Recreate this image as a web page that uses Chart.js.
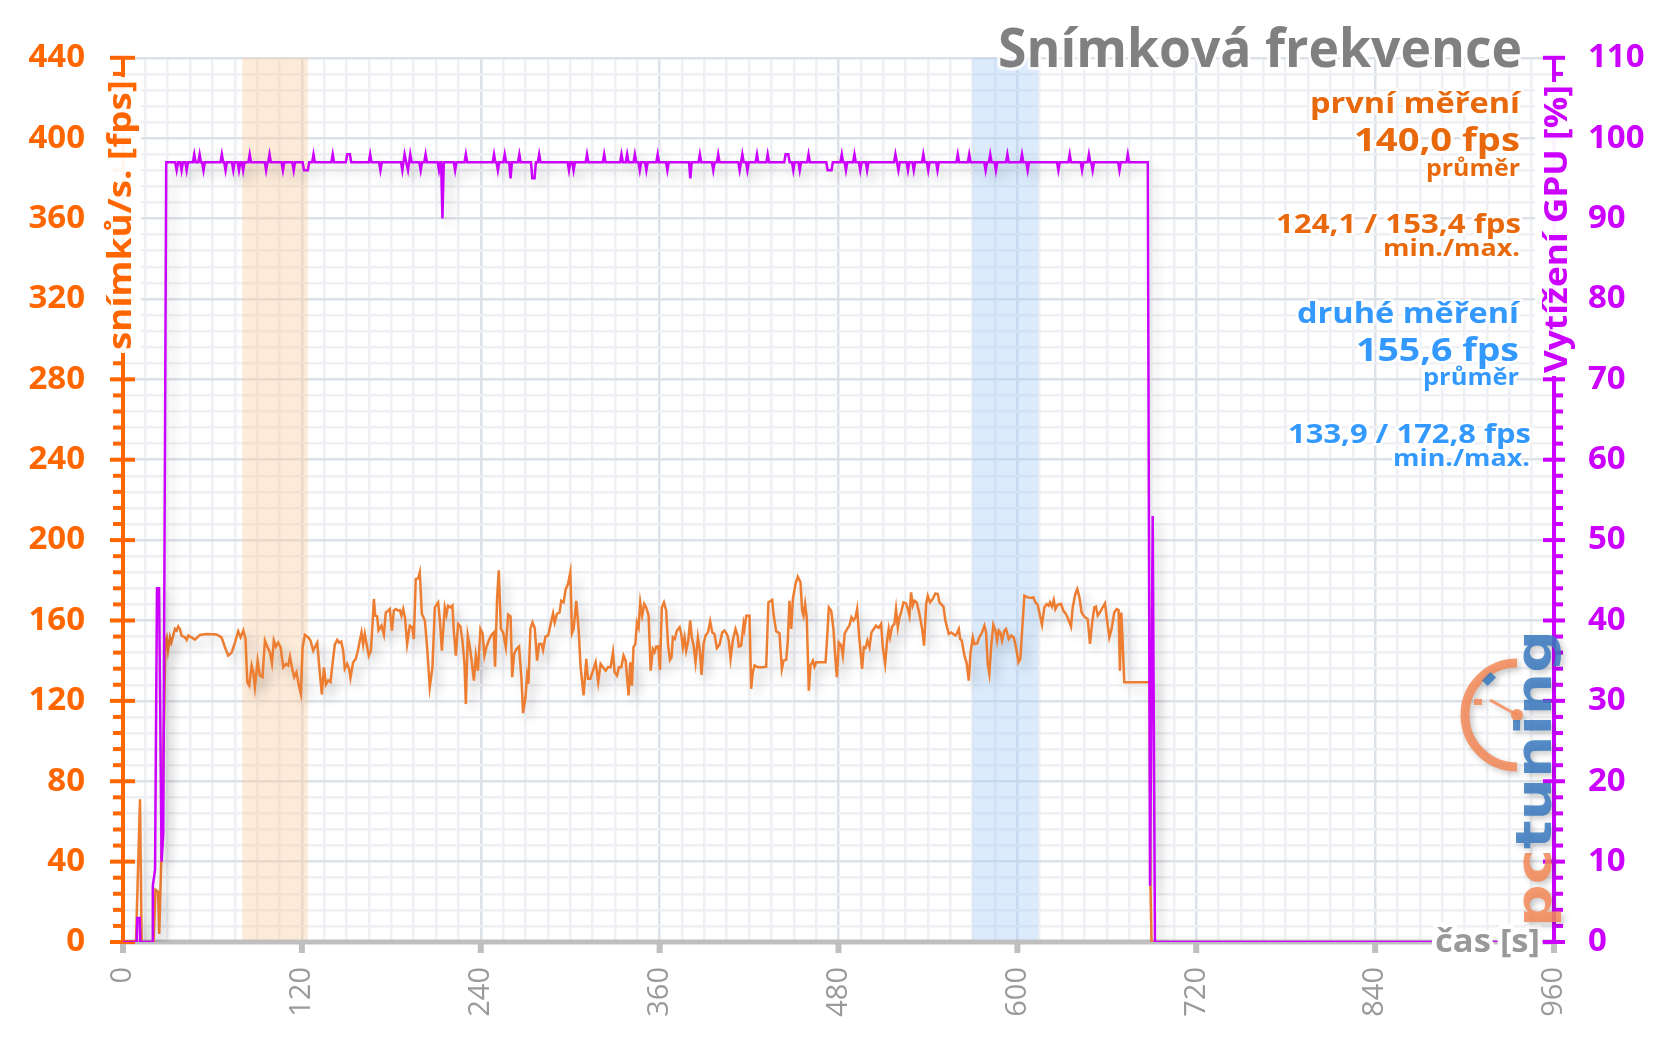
<!DOCTYPE html>
<html><head><meta charset="utf-8">
<script src="https://cdn.jsdelivr.net/npm/chart.js@4.4.1/dist/chart.umd.min.js"></script>
<style>html,body{margin:0;padding:0;background:#fff;overflow:hidden}#wrap{width:1656px;height:1044px;position:relative}canvas{display:block}</style>
</head><body><div id="wrap"><canvas id="c"></canvas></div>
<script>
// ---------- data ----------
const xTickValues = [0,120,240,360,480,600,720,840,960];
const fpsTickValues = [0,40,80,120,160,200,240,280,320,360,400,440];
const gpuTickValues = [0,10,20,30,40,50,60,70,80,90,100,110];
const highlightBands = [[80,124],[570,614]];

// time [s], frames per second
const fpsPoints = [
[0,0],[8.7,0],[11.4,71],[12.5,0],[20.5,0],[21.8,26],[23.5,25],[24.3,4],[25.9,47],[28.5,150],[29.3,151.6],[30.2,145],[31.5,151.6],[32.4,149],[33.7,152.5],[34.9,155.8],[36,155],[37.1,157],[38.2,155.8],[39.3,152.5],[41.6,151.6],[42.7,150.3],[43.8,152.5],[46,151.6],[48.3,150.5],[51.6,152.8],[56.1,153.3],[62.8,153],[66.1,151.6],[68.4,146.7],[70.6,142.5],[72.9,144],[75.1,149],[77.3,154.6],[78.9,151.6],[80.7,155],[82.2,150.8],[83.4,129.3],[84.7,127.6],[86.3,137.6],[87.4,134.2],[88.5,126.8],[90.3,140],[91.8,132.6],[93.6,131.8],[95.2,150],[97,146.7],[98.6,144],[99.9,138.7],[101.2,150],[102.6,147],[104.1,149],[105.7,146.7],[107.5,136.7],[109.3,138.4],[110.8,137.6],[112,142],[113.5,136],[114.9,131.8],[116.4,134.2],[118,127.6],[119.3,123.5],[120.5,146.7],[122,152.8],[124.3,151.6],[125.8,150],[127.6,145],[128.7,146.7],[130.3,149],[132.1,133.4],[133.4,123.2],[134.8,136.7],[136.1,128.1],[137.7,130.2],[139.2,129.3],[140.6,138.7],[142.1,148],[143.7,150.3],[145,149],[146.4,149.5],[147.7,145],[148.8,135.9],[150.4,138.4],[151.7,135.9],[152.6,131.4],[154.4,139.2],[156.2,140.9],[157.8,145.8],[158.9,150],[160,154],[161.1,148],[162.2,153.3],[163.4,148.3],[164.9,142.5],[166.3,145],[167.4,158.3],[168.3,170.7],[169.2,162.4],[170.5,162],[171.4,155],[173.4,157.4],[175,153],[176.3,164],[177.9,164.9],[179,165.7],[180.4,155],[181.7,164.9],[183,165.7],[184.6,164.9],[185.7,165.2],[186.8,162.4],[188,165.7],[189.3,160.7],[190.6,148.3],[192.4,157.4],[194,156.6],[195.1,150.8],[196.4,180.6],[198,181],[199.1,184],[200.5,163.2],[202.5,160],[204,146.7],[205.8,126.8],[207.6,136.7],[209.2,166.5],[211.4,169],[212.6,160],[213.9,145],[215.9,166.5],[217,162.9],[218.1,167.4],[219.7,166.5],[221,167.4],[221.9,155],[223.3,142.5],[224.8,158.3],[226.4,157],[227.7,150],[229.1,138.4],[230,118.5],[231.3,152.5],[232.7,146.7],[234,139.2],[235.4,130.1],[236.7,142.5],[238.1,135],[239.8,155.8],[241.2,153.6],[242.5,142.5],[243.8,146.7],[245.4,150],[247.2,152.8],[248.7,154],[249.6,137],[251,171.5],[252.1,185],[253.5,155.8],[255,154],[256.8,146.7],[258.4,162.9],[260,162],[261.1,131.8],[262.4,143.4],[264,145.8],[265.7,147],[267.3,131],[268.4,113.9],[270,121.8],[271.1,132.6],[272,128.5],[273.3,155.8],[274.7,159],[276.2,156.3],[277.8,140],[279.1,148.3],[280.7,148.3],[281.8,145.3],[283.4,152],[285.2,152.5],
[288.5,163.5],[289.6,159],[291.1,163.2],[292.9,164],[294,169.8],[295.6,169],[297,175.6],[298.5,178],[300.1,184],[301.2,153.6],[302.3,155.8],[304.1,169.8],[305.7,155],[307,136.7],[309,122.7],[310.8,140.9],[311.9,131],[313.5,131],[315.3,135],[317.1,139.2],[318.8,129.3],[320.4,138.4],[322,136.7],[323.8,135],[325.3,136.7],[327.1,136.7],[328.7,144.2],[329.8,134.2],[331.4,132.6],[332.7,136.7],[334.3,136.7],[335.8,142.5],[337.2,140],[339.2,122.7],[340.3,139.2],[341.4,127.6],[342.5,146.7],[343.7,148.3],[344.8,159],[345.9,156.6],[347,169],[348.3,162.4],[349.7,168.2],[351,166.5],[352.6,162.4],[354,135],[355.5,145.8],[356.6,144.2],[357.7,147],[359.1,147],[360.2,135.4],[361.5,166.5],[362.9,169],[364.4,164.9],[365.6,148.3],[366.9,140.4],[368,141.7],[368.9,151.6],[370.2,150.8],[371.6,155],[373.4,156.6],[374.5,153.3],[375.6,146.7],[376.7,151.6],[377.8,145],[379.2,150],[380.5,160],[381.6,151.6],[382.8,147.5],[384.1,139.2],[385.7,151.6],[387,145],[388.1,132.9],[389.5,148.3],[390.8,152.5],[392.4,154],[393.9,159.6],[395.3,154],[396.8,153.3],[398.4,146.3],[400.2,148],[402,154],[403.5,155],[405.1,153.3],[406.4,150],[407.6,140.9],[409.1,150],[410.9,155.8],[412.3,152.5],[413.1,147],[414.7,147.5],[416.3,158.3],[416.9,155.8],[418.1,162.4],[420.3,162.4],[421.4,126],[422.5,134.2],[423.7,137.6],[425.9,136.7],[429.2,136.7],[431.5,137],[433,169],[435.5,170.2],[436.4,163.2],[438.2,154.6],[440.4,153.6],[442,135.9],[443.1,140],[444.9,140.4],[446,150],[447.1,169.8],[448.3,155.8],[449.4,170.7],[451.1,178],[452.7,181.8],[454.5,179],[455.6,164.9],[456.5,162.4],[457.6,168.2],[458.7,161.6],[460.1,125.1],[461.2,137.6],[462.8,140],[463.9,137],[465,139.2],[471.3,139.2],[472.4,151.6],[473.5,166.5],[475.1,164.9],[476.6,155.8],[478,140],[478.9,131.8],[480.2,149],[481.8,147.5],[482.9,142.5],[484.2,153.6],[486.2,156.3],[487.3,157.4],[488.7,161.6],[490,160],[491.4,161.6],[492.5,165.7],[494.1,150],[495.8,135.9],[497,146.7],[498.1,146.3],[499.4,150],[500.8,146.7],[502.1,154],[503.7,155.8],[505.2,157.4],[507,156.3],[508.6,158.3],[509.7,146.7],[511.3,138.4],[512.6,150],[513.7,155.8],[514.6,151.6],[516,157],[517.5,158.3],[518.6,165.7],[519.8,156.6],[520.9,161.6],[522,164],[523.6,169],[525.3,168.5],[526.7,165.2],[527.6,162.4],[528.7,174],[529.8,167.4],[531,169.8],[532.5,169],[534.3,163.2],[536.1,155.8],[537.4,147.5],[538.8,168.2],[539.9,172.3],[541.4,169],[543.2,170.7],[545,173.5],[546.6,173.2],[547.7,169],[550.4,166.9],[551.7,160],[554,153.3],
[555.5,154],[557.1,153.3],[558.4,152.5],[559.3,153.3],[560.7,155.8],[561.6,150.8],[562.7,150],[564.5,142.5],[566,138.7],[567.4,130.1],[568.5,143.4],[570.1,151.6],[571.2,148.3],[573,148.6],[574.5,151.6],[576.3,154],[577.9,157.4],[579,154],[580.1,138.4],[581.2,133.4],[582.4,146.7],[583.9,157.9],[585.3,155],[586.4,150],[587.5,155],[588.6,154],[589.7,150],[591.3,155],[592.4,155.8],[594.2,150.8],[595.8,152.5],[597.5,151.6],[599.1,146.7],[600.7,139.2],[602,140.9],[603.1,154],[604.7,172.3],[606.9,171.5],[609.2,171.2],[610.7,171.5],[612.1,169],[613.6,167.9],[615.2,162.4],[616.5,157.9],[618.1,166.5],[619.7,168.2],[621,167.4],[621.9,169],[623.2,166.9],[624.4,170.2],[625.5,165.7],[627,167.9],[629.3,168.2],[630.8,164.9],[632.6,163.2],[634.4,160.2],[636,157],[637.1,166.5],[638.9,173.2],[640.2,175.6],[641.6,171.5],[643.1,164],[644.9,161.9],[647.2,160.7],[648.7,148.3],[650.1,158.3],[651.6,166.5],[652.7,166.9],[653.9,162.4],[655.4,164],[657.2,166.5],[658.8,168.5],[659.9,161.6],[661.7,151.6],[663.2,155.8],[665,164],[666.6,165.7],[667.9,165.2],[668.8,135],[669.7,164],[670.6,150],[671.7,129.3],[688.8,129.3],[689.3,28],[690,0],[692,0]
];

// time [s], GPU load [%]
const gpuPoints = [
[0,0],[9.2,0],[9.6,3],[11.2,3],[11.6,0],[19.6,0],[20,7],[21.5,9],[22.8,44],[24.2,44],[25.9,10],[27,13.5],[29,97],
[35,97],[36,96],[37,97],[38.4,97],[39.3,96],[40.2,97],[41.8,97],[42.7,96],[43.6,97],[46.9,97],[47.8,98],[48.7,97],[50.5,97],[51.4,98],[52.3,97],[53.1,97],[54,96],[54.9,97],
[65.4,97],[66.3,98],[67.2,97],[67.9,97],[68.8,96],[69.7,97],[73.1,97],[74,96],[74.9,97],[76.9,97],[77.8,96],[78.7,97],[79.7,97],[80.6,96],[81.5,97],[84.1,97],[85,98],[85.9,97],
[95.1,97],[96,96],[96.9,97],[97.4,97],[98.3,98],[99.2,97],[106.4,97],[107.3,96],[108.2,97],[113.6,97],[114.5,96],[115.4,97],[120.5,97],[121.4,96],[124,96],[124.9,97],[126.9,97],[127.8,98],[128.7,97],
[139.8,97],[140.7,98],[141.6,97],[149.5,97],[150.4,98],[152.2,98],[153.1,97],[164.9,97],[165.8,98],[166.7,97],[171.8,97],[172.7,96],[173.6,97],
[186.5,97],[187.4,96],[188.9,98],[190,97],[191.2,96],[192.7,98],[193.6,97],[198.8,97],[199.7,96],[200.6,97],[202.1,97],[203,98],[203.9,97],
[211.1,97],[212,96],[212.9,97],[213.4,97],[214.3,90],[215.2,97],[221.9,97],[222.8,96],[223.7,97],[229.1,97],[230,98],[230.9,97],
[248,97],[248.9,98],[249.8,97],[250.6,97],[251.5,96],[252.4,97],[255.2,97],[256.1,98],[257,97],[259.1,97],[260,95],[260.9,97],[265,97],[265.9,98],[266.8,97],
[273.7,97],[274.6,95],[276.1,95],[277,97],[278.3,97],[279.2,98],[280.1,97],
[298.3,97],[299.2,96],[300.1,97],[301.4,97],[302.3,96],[303.2,97],[310.4,97],[311.3,98],[312.2,97],[321.9,97],[322.8,98],[323.7,97],[333.5,97],[334.4,98],[335.3,97],[337.3,97],[338.2,98],[339.1,97],[342.5,97],[343.4,98],[344.3,97],[345.8,97],[346.7,96],[347.6,97],[350.2,97],[351.1,96],[352,97],[357.8,97],[358.7,98],[359.6,97],[364.3,97],[365.2,96],[366.1,97],
[379.7,97],[380.6,95],[381.5,97],[386.1,97],[387,98],[387.9,97],[395.1,97],[396,96],[396.9,97],[398.4,97],[399.3,98],[400.2,97],
[412.8,97],[413.7,96],[415.5,98],[416.4,97],[418,97],[418.9,96],[419.8,97],[424.4,97],[425.3,98],[426.2,97],[431.6,97],[432.5,98],[433.4,97],
[443.6,97],[444.5,98],[446.3,98],[447.2,97],[448.8,97],[449.7,96],[450.6,97],[453.1,97],[454,96],[454.9,97],[459,97],[459.9,98],[460.8,97],
[471.8,97],[472.7,96],[475.3,96],[476.2,97],[481.3,97],[482.2,98],[483.1,97],[484.1,97],[485,96],[485.9,97],[489.8,97],[490.7,98],[491.6,97],[493.7,97],[494.6,96],[495.5,97],[498.3,97],[499.2,96],[500.1,97],
[517.3,97],[518.2,98],[519.2,97],[520.2,96],[521.1,97],[525.7,97],[526.6,96],[527.5,97],[529.6,97],[530.5,96],[531.4,97],[536,97],[536.9,98],[537.8,97],[539.3,97],[540.2,96],[541.1,97],[545.5,97],[546.4,96],[547.3,97],
[559.1,97],[560,98],[560.9,97],[566.8,97],[567.7,98],[568.6,97],[577.8,97],[578.7,96],[579.6,97],[580.9,97],[581.8,98],[582.7,97],[584.7,97],[585.6,96],[586.5,97],[592.4,97],[593.3,98],[594.2,97],
[602.2,97],[603.1,98],[604,97],[606,97],[606.9,96],[607.8,97],[626.6,97],[627.5,96],[628.4,97],[634.2,97],[635.1,98],[636,97],[642.5,97],[643.4,96],[644.3,97],[647.1,97],[648,98],[648.9,97],[649.6,97],[650.5,96],[651.4,97],
[667.6,97],[668.5,96],[669.4,97],[673.2,97],[674.1,98],[675,97],[687.5,97],[689,7],[690.8,53],[692.3,0],[960,0]
];

// ---------- styling ----------
const FONT = '"Open Sans", sans-serif';
const ORANGE_AXIS = '#ff6600';
const PURPLE = '#cc00ff';
const FPS_LINE = '#ed7d31';
const TEXT_ORANGE = '#e8680c';
const TEXT_BLUE = '#3399ff';
const GRID_MAJOR = '#dde1e8';
const GRID_MINOR = '#eef0f4';
const bandColors = ['rgba(250,205,160,0.40)','rgba(170,208,248,0.42)'];

const textBlocks = [
  {t:'Snímková frekvence', c:'#808080', size:53, right:1522, base:67, width:524},
  {t:'první měření', c:TEXT_ORANGE, size:28, right:1520, base:113, width:210},
  {t:'140,0 fps', c:TEXT_ORANGE, size:33, right:1520, base:151, width:166},
  {t:'průměr', c:TEXT_ORANGE, size:23, right:1520, base:176, width:94},
  {t:'124,1 / 153,4 fps', c:TEXT_ORANGE, size:27, right:1521, base:233, width:245},
  {t:'min./max.', c:TEXT_ORANGE, size:24, right:1520, base:256, width:137},
  {t:'druhé měření', c:TEXT_BLUE, size:28, right:1519, base:323, width:222},
  {t:'155,6 fps', c:TEXT_BLUE, size:33, right:1519, base:361, width:163},
  {t:'průměr', c:TEXT_BLUE, size:23, right:1519, base:385, width:96},
  {t:'133,9 / 172,8 fps', c:TEXT_BLUE, size:27, right:1531, base:443, width:243},
  {t:'min./max.', c:TEXT_BLUE, size:24, right:1530, base:466, width:137}
];

function fitText(ctx, b) {
  ctx.save();
  ctx.font = 'bold ' + b.size + 'px ' + FONT;
  const w = ctx.measureText(b.t).width;
  const sx = b.width / w;
  ctx.translate(b.right, b.base);
  ctx.scale(sx, 1);
  ctx.textAlign = 'right';
  ctx.textBaseline = 'alphabetic';
  ctx.lineJoin = 'round';
  ctx.strokeStyle = 'rgba(255,255,255,0.85)';
  ctx.lineWidth = 6 / sx;
  ctx.strokeText(b.t, 0, 0);
  ctx.fillStyle = b.c;
  ctx.fillText(b.t, 0, 0);
  ctx.restore();
}

function rotTitle(ctx, text, color, size, baseX, top, bottom, bg) {
  ctx.save();
  if (bg) { ctx.fillStyle = 'rgba(255,255,255,0.95)'; ctx.fillRect(bg[0], top - 3, bg[1] - bg[0], bottom - top + 6); }
  ctx.font = 'bold ' + size + 'px ' + FONT;
  const w = ctx.measureText(text).width;
  ctx.translate(baseX, bottom);
  ctx.rotate(-Math.PI / 2);
  ctx.scale((bottom - top) / w, 1);
  ctx.textAlign = 'left';
  ctx.textBaseline = 'alphabetic';
  ctx.fillStyle = color;
  ctx.fillText(text, 0, 0);
  ctx.restore();
}

function drawLogo(ctx) {
  ctx.save();
  ctx.globalAlpha = 0.85;
  ctx.shadowColor = 'rgba(0,0,0,0.25)'; ctx.shadowBlur = 6; ctx.shadowOffsetX = 3; ctx.shadowOffsetY = 3;
  const lo = '#f58a58', lb = '#3a7abf';
  ctx.strokeStyle = lo; ctx.lineWidth = 9;
  ctx.beginPath(); ctx.arc(1517, 715, 52, -Math.PI / 2, Math.PI / 2, true); ctx.stroke();
  ctx.lineWidth = 3;
  ctx.beginPath(); ctx.moveTo(1517, 715); ctx.lineTo(1490, 700); ctx.stroke();
  ctx.fillStyle = lo; ctx.beginPath(); ctx.arc(1517, 715, 6, 0, Math.PI * 2); ctx.fill();
  ctx.save(); ctx.translate(1489, 679); ctx.rotate(-Math.PI / 4); ctx.fillStyle = lb; ctx.fillRect(-6, -4, 12, 8); ctx.restore();
  ctx.save(); ctx.translate(1478, 702); ctx.fillStyle = lo; ctx.fillRect(-4, -3, 8, 6); ctx.restore();
  ctx.font = 'bold 50px "DejaVu Sans"';
  const w1 = ctx.measureText('pc').width, w2 = ctx.measureText('tuning').width;
  ctx.translate(1551, 927);
  ctx.rotate(-Math.PI / 2);
  ctx.scale(297 / (w1 + w2), 1);
  ctx.textAlign = 'left'; ctx.textBaseline = 'alphabetic';
  ctx.fillStyle = lo; ctx.fillText('pc', 0, 0);
  ctx.fillStyle = lb; ctx.fillText('tuning', w1, 0);
  ctx.restore();
}

const decor = {
  id: 'decor',
  beforeDatasetsDraw(chart) {
    const {ctx, chartArea: {left, right, top, bottom}, scales: {x, y, y2}} = chart;
    ctx.save();
    highlightBands.forEach(([a, b], i) => {
      const x1 = x.getPixelForValue(a), x2 = x.getPixelForValue(b);
      ctx.fillStyle = bandColors[i];
      ctx.fillRect(x1, top, x2 - x1, bottom - top);
    });
    // x axis
    ctx.fillStyle = '#bfbfbf';
    ctx.fillRect(left, bottom - 2.5, right - left, 5);
    xTickValues.forEach(v => { const px = x.getPixelForValue(v); ctx.fillRect(px - 3, bottom + 2, 6, 9); });
    // left axis
    ctx.fillStyle = ORANGE_AXIS;
    ctx.fillRect(left - 2, top, 4, bottom - top + 2);
    y.ticks.forEach(t => {
      const py = y.getPixelForValue(t.value);
      if (fpsTickValues.includes(Math.round(t.value))) ctx.fillRect(left - 13, py - 2, 25, 4);
      else ctx.fillRect(left - 10, py - 2, 10, 4);
    });
    // right axis
    ctx.fillStyle = PURPLE;
    ctx.fillRect(right - 2, top, 4, bottom - top + 2);
    y2.ticks.forEach(t => {
      const py = y2.getPixelForValue(t.value);
      if (gpuTickValues.includes(Math.round(t.value))) ctx.fillRect(right - 11, py - 2, 22, 4);
      else ctx.fillRect(right, py - 2, 9, 4);
    });
    ctx.restore();
    ctx.save();
    ctx.shadowColor = 'rgba(0,0,0,0.2)';
    ctx.shadowBlur = 12;
    ctx.shadowOffsetX = 6;
    ctx.shadowOffsetY = 7;
  },
  afterDatasetsDraw(chart) {
    const ctx = chart.ctx;
    ctx.restore();
    rotTitle(ctx, 'snímků/s. [fps]', ORANGE_AXIS, 33, 131, 80, 350, [97, 141]);
    rotTitle(ctx, 'Vytížení GPU [%]', PURPLE, 33, 1567, 85, 373, [1535, 1577]);
    // x title
    ctx.save();
    ctx.font = 'bold 33px ' + FONT;
    const w = ctx.measureText('čas [s]').width;
    ctx.translate(1540, 952); ctx.scale(105 / w, 1);
    ctx.textAlign = 'right';
    ctx.lineJoin = 'round'; ctx.strokeStyle = '#fff'; ctx.lineWidth = 9;
    ctx.strokeText('čas [s]', 0, 0);
    ctx.fillStyle = '#999999'; ctx.fillText('čas [s]', 0, 0);
    ctx.restore();
    textBlocks.forEach(b => fitText(ctx, b));
    drawLogo(ctx);
  }
};

const isMult = (v, m) => Math.abs(v / m - Math.round(v / m)) < 1e-6;

new Chart(document.getElementById('c'), {
  type: 'line',
  data: {
    datasets: [
      {label: 'GPU', data: gpuPoints.map(p => ({x: p[0], y: p[1]})), yAxisID: 'y2', borderColor: PURPLE, borderWidth: 2.5, pointRadius: 0, tension: 0, fill: false},
      {label: 'FPS', data: fpsPoints.map(p => ({x: p[0], y: p[1]})), yAxisID: 'y', borderColor: FPS_LINE, borderWidth: 2.5, pointRadius: 0, tension: 0, fill: false}
    ]
  },
  options: {
    responsive: true, maintainAspectRatio: false, animation: false,
    layout: {padding: {top: 56, left: 0, right: 0, bottom: 0}},
    plugins: {legend: {display: false}, tooltip: {enabled: false}, title: {display: false}},
    scales: {
      x: {
        type: 'linear', min: 0, max: 960,
        afterFit: s => { s.height = 102; },
        border: {display: false},
        grid: {drawTicks: false, lineWidth: 2.5, color: c => (c.tick && isMult(c.tick.value, 120)) ? GRID_MAJOR : GRID_MINOR},
        ticks: {stepSize: 15, autoSkip: false, minRotation: 90, maxRotation: 90, padding: 25, color: '#9a9a9a',
          font: {family: FONT, size: 29},
          callback: v => xTickValues.includes(Math.round(v)) && isMult(v, 120) ? String(Math.round(v)) : ''}
      },
      y: {
        position: 'left', min: 0, max: 440,
        afterFit: s => { s.width = 123; },
        border: {display: false},
        grid: {drawTicks: false, lineWidth: 2.5, color: c => (c.tick && isMult(c.tick.value, 40)) ? GRID_MAJOR : GRID_MINOR},
        ticks: {stepSize: 8, autoSkip: false, padding: 38, color: ORANGE_AXIS, font: {family: FONT, size: 33, weight: 'bold'},
          callback: v => fpsTickValues.includes(Math.round(v)) && isMult(v, 40) ? String(Math.round(v)) : ''}
      },
      y2: {
        position: 'right', min: 0, max: 110,
        afterFit: s => { s.width = 102; },
        border: {display: false},
        grid: {display: false, drawTicks: false},
        ticks: {stepSize: 2, autoSkip: false, padding: 34, color: PURPLE, font: {family: FONT, size: 33, weight: 'bold'},
          callback: v => gpuTickValues.includes(Math.round(v)) && isMult(v, 10) ? String(Math.round(v)) : ''}
      }
    }
  },
  plugins: [decor]
});
</script>
</body></html>
